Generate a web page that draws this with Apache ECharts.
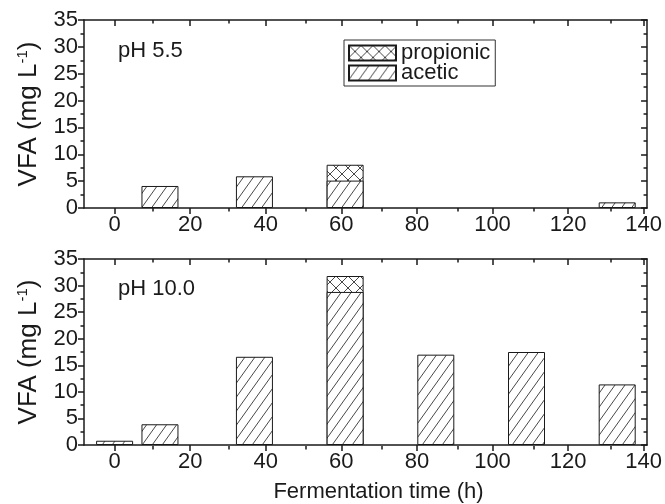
<!DOCTYPE html>
<html>
<head>
<meta charset="utf-8">
<script src="https://cdn.jsdelivr.net/npm/echarts@6/dist/echarts.min.js"></script>
<style>
html,body{margin:0;padding:0;background:#fff;}
#chart{width:665px;height:504px;}
</style>
</head>
<body>
<div id="chart"></div>
<script>
// ---- data ----
const times55 = [12, 37, 61, 133];
const acetic55 = [4.1, 5.9, 5.1, 1.05];
const propionic55 = [0, 0, 2.95, 0];

const times10 = [0, 12, 37, 61, 85, 109, 133];
const acetic10 = [0.8, 3.9, 16.6, 28.8, 17.0, 17.5, 11.4];
const propionic10 = [0, 0, 0, 3.0, 0, 0, 0];

const xTicks = [0, 20, 40, 60, 80, 100, 120, 140];
const xMinorTicks = [10, 30, 50, 70, 90, 110, 130];
const panelLabels = ['pH 5.5', 'pH 10.0'];
const seriesNames = ['propionic', 'acetic'];
const xTitle = 'Fermentation time (h)';

// ---- layout/styles ----
const XMIN = -8.1, XMAX = 140.9;
const FONT = '"Liberation Sans", Arial, sans-serif';
const FS = 22;
const INK = '#1a1a1a';

function hatchPattern() {
  const w = 10, h = 14;
  const c = document.createElement('canvas');
  c.width = w; c.height = h;
  const ctx = c.getContext('2d');
  ctx.fillStyle = '#fff'; ctx.fillRect(0, 0, w, h);
  ctx.strokeStyle = '#333'; ctx.lineWidth = 0.9;
  for (let k = -1; k <= 1; k++) {
    ctx.beginPath(); ctx.moveTo(k * w, h); ctx.lineTo(k * w + w, 0); ctx.stroke();
  }
  return { image: c, repeat: 'repeat' };
}
function crossPattern() {
  const w = 12, h = 12;
  const c = document.createElement('canvas');
  c.width = w; c.height = h;
  const ctx = c.getContext('2d');
  ctx.fillStyle = '#fff'; ctx.fillRect(0, 0, w, h);
  ctx.strokeStyle = '#333'; ctx.lineWidth = 0.9;
  for (let k = -1; k <= 1; k++) {
    ctx.beginPath(); ctx.moveTo(k * w, h); ctx.lineTo(k * w + w, 0); ctx.stroke();
    ctx.beginPath(); ctx.moveTo(k * w, 0); ctx.lineTo(k * w + w, h); ctx.stroke();
  }
  return { image: c, repeat: 'repeat' };
}
const hatch = hatchPattern();
const cross = crossPattern();

const grids = [
  { left: 84, top: 20, width: 568, height: 188 },
  { left: 84, top: 20, width: 568, height: 188 },
  { left: 84, top: 259, width: 568, height: 187 },
  { left: 84, top: 259, width: 568, height: 187 }
];

function xAxisMain(gi, pos, withName) {
  return {
    type: 'value', gridIndex: gi, position: pos, min: XMIN, max: XMAX,
    name: withName ? xTitle : '', nameLocation: 'middle', nameGap: 36,
    nameTextStyle: { fontSize: FS, color: INK, fontFamily: FONT, padding: [0, 0, 0, 26] },
    axisLine: { show: true, onZero: false, lineStyle: { color: INK, width: 1.5 } },
    axisTick: { show: true, inside: pos === 'top', length: 6, customValues: xTicks, lineStyle: { color: INK, width: 1.5 } },
    axisLabel: { show: pos === 'bottom', customValues: xTicks, fontSize: FS, color: INK, margin: 6, fontFamily: FONT },
    splitLine: { show: false }
  };
}
function xAxisMinor(gi, pos) {
  return {
    type: 'value', gridIndex: gi, position: pos, min: XMIN, max: XMAX,
    axisLine: { show: false, onZero: false },
    axisTick: { show: true, inside: pos === 'top', length: 3.5, customValues: xMinorTicks, lineStyle: { color: INK, width: 1.5 } },
    axisLabel: { show: false },
    splitLine: { show: false }
  };
}
function yAxisMain(gi, pos) {
  const left = pos === 'left';
  return {
    type: 'value', gridIndex: gi, position: pos, min: 0, max: 35, interval: 5,
    name: left ? 'VFA (mg L{sup|-1})' : '', nameLocation: 'middle', nameGap: 42,
    nameTextStyle: { fontSize: 26, color: INK, fontFamily: FONT,
      rich: { sup: { fontSize: 15, color: INK, fontFamily: FONT, padding: [0, 0, 12, 0] } } },
    axisLine: { show: true, onZero: false, lineStyle: { color: INK, width: 1.5 } },
    axisTick: { show: true, inside: !left, length: 6, lineStyle: { color: INK, width: 1.5 } },
    minorTick: { show: true, splitNumber: 2, length: 3.5, lineStyle: { color: INK, width: 1.5 } },
    axisLabel: { show: left, fontSize: FS, color: INK, margin: 6, fontFamily: FONT },
    splitLine: { show: false }
  };
}
function yAxisHidden(gi) {
  return { type: 'value', gridIndex: gi, min: 0, max: 35, show: false };
}

const xAxes = [
  xAxisMain(0, 'bottom', false), xAxisMain(0, 'top', false),
  xAxisMinor(1, 'bottom'), xAxisMinor(1, 'top'),
  xAxisMain(2, 'bottom', true), xAxisMain(2, 'top', false),
  xAxisMinor(3, 'bottom'), xAxisMinor(3, 'top')
];
const yAxes = [
  yAxisMain(0, 'left'), yAxisMain(0, 'right'),
  yAxisHidden(1),
  yAxisMain(2, 'left'), yAxisMain(2, 'right'),
  yAxisHidden(3)
];

// propionic sits on top of acetic: its bar spans 0..(acetic+propionic), drawn behind the acetic bar
function totals(a, p) { return a.map((v, i) => v + p[i]); }
function pairsNonZero(xs, ys, keep) {
  return xs.map((x, i) => [x, keep[i] > 0 ? ys[i] : '-']);
}
function pairs(xs, ys) { return xs.map((x, i) => [x, ys[i]]); }

function barSeries(name, data, xi, yi, fill, z) {
  return {
    type: 'bar', name: name, xAxisIndex: xi, yAxisIndex: yi,
    barWidth: 37, barGap: '-100%', z: z,
    data: data,
    itemStyle: { color: fill, borderColor: INK, borderWidth: 1 },
    emphasis: { disabled: true },
    animation: false
  };
}

const series = [
  barSeries('propionic', pairsNonZero(times55, totals(acetic55, propionic55), propionic55), 0, 0, cross, 2),
  barSeries('acetic', pairs(times55, acetic55), 0, 0, hatch, 3),
  barSeries('propionic', pairsNonZero(times10, totals(acetic10, propionic10), propionic10), 4, 3, cross, 2),
  barSeries('acetic', pairs(times10, acetic10), 4, 3, hatch, 3)
];

const chart = echarts.init(document.getElementById('chart'), null, { renderer: 'canvas' });
chart.setOption({
  animation: false,
  backgroundColor: '#fff',
  grid: grids,
  xAxis: xAxes,
  yAxis: yAxes,
  legend: {
    data: seriesNames,
    orient: 'vertical', left: 344, top: 40,
    itemWidth: 47, itemHeight: 15, itemGap: -2, icon: 'rect',
    padding: [2, 5, 2, 4],
    borderColor: '#333', borderWidth: 1,
    textStyle: { fontSize: FS, color: INK, fontFamily: FONT },
    selectedMode: false
  },
  graphic: [
    { type: 'text', left: 118, top: 40, style: { text: panelLabels[0], fontSize: FS, fill: INK, fontFamily: FONT } },
    { type: 'text', left: 118, top: 278, style: { text: panelLabels[1], fontSize: FS, fill: INK, fontFamily: FONT } }
  ],
  series: series
});
</script>
</body>
</html>
